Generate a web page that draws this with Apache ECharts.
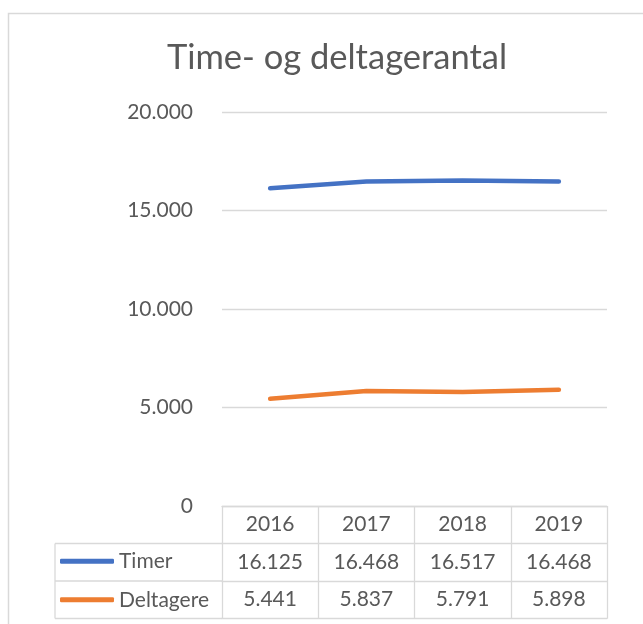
<!DOCTYPE html>
<html>
<head>
<meta charset="utf-8">
<script src="https://cdn.jsdelivr.net/npm/echarts@6/dist/echarts.min.js"></script>
<style>
  html, body { margin: 0; padding: 0; background: #fff; }
  #chart { width: 643px; height: 624px; }
</style>
</head>
<body>
<div id="chart"></div>
<script>
// data
var years = ['2016', '2017', '2018', '2019'];
var timer = [16125, 16468, 16517, 16468];
var deltagere = [5441, 5837, 5791, 5898];
var yTicks = [0, 5000, 10000, 15000, 20000];

// layout
var gridLeft = 222, gridRight = 607, gridTop = 112, gridBottom = 506;
var rowH = 37.5;
var tableLeft = 55;
var grey = '#d9d9d9';
var txt = '#595959';
var font = 'Lato';

function fmt(v) {
  return String(v).replace(/\B(?=(\d{3})+(?!\d))/g, '.');
}

var chart = echarts.init(document.getElementById('chart'));

function rowAxis(offset, values) {
  return {
    type: 'category',
    data: years,
    position: 'bottom',
    offset: offset,
    boundaryGap: true,
    axisLine: { show: true, lineStyle: { color: grey, width: 1.3 } },
    axisTick: { show: false },
    axisLabel: {
      show: !!values,
      margin: 8,
      color: txt,
      fontFamily: font,
      fontSize: 21,
      formatter: function (v, i) { return values ? fmt(values[i]) : ''; }
    }
  };
}

var legendText = { color: txt, fontFamily: font, fontSize: 21, lineHeight: 22 };

var option = {
  backgroundColor: '#fff',
  animation: false,
  title: {
    text: 'Time- og deltagerantal',
    left: 332,
    textAlign: 'center',
    top: 35,
    textStyle: { color: txt, fontFamily: font, fontSize: 34.5, fontWeight: 'normal' }
  },
  legend: [
    {
      data: ['Timer'],
      left: 55, top: gridBottom + rowH * 1.5 - 17,
      icon: 'roundRect', itemWidth: 54, itemHeight: 5,
      textStyle: legendText
    },
    {
      data: ['Deltagere'],
      left: 55, top: gridBottom + rowH * 2.5 - 16,
      icon: 'roundRect', itemWidth: 54, itemHeight: 5,
      textStyle: legendText
    }
  ],
  grid: {
    left: gridLeft, right: 643 - gridRight, top: gridTop, bottom: 624 - gridBottom,
    containLabel: false
  },
  xAxis: [
    {
      type: 'category',
      data: years,
      boundaryGap: true,
      axisLine: { show: true, lineStyle: { color: grey, width: 1.3 } },
      axisTick: { show: true, inside: false, length: rowH * 3, lineStyle: { color: grey, width: 1.3 } },
      axisLabel: { margin: 8, color: txt, fontFamily: font, fontSize: 21 }
    },
    rowAxis(rowH, timer),
    rowAxis(rowH * 2, deltagere),
    rowAxis(rowH * 3, null)
  ],
  yAxis: {
    type: 'value',
    min: yTicks[0],
    max: yTicks[yTicks.length - 1],
    interval: 5000,
    axisLine: { show: false },
    axisTick: { show: false },
    axisLabel: {
      margin: 29, color: txt, fontFamily: font, fontSize: 21,
      formatter: function (v) { return fmt(v); }
    },
    splitLine: { lineStyle: { color: grey, width: 1.3 } }
  },
  series: [
    {
      name: 'Timer', type: 'line', data: timer,
      symbol: 'none',
      lineStyle: { color: '#4472C4', width: 4.5, cap: 'round' },
      itemStyle: { color: '#4472C4' }
    },
    {
      name: 'Deltagere', type: 'line', data: deltagere,
      symbol: 'none',
      lineStyle: { color: '#ED7D31', width: 4.5, cap: 'round' },
      itemStyle: { color: '#ED7D31' }
    }
  ],
  graphic: [
    // outer chart border
    { type: 'rect', shape: { x: 8.5, y: 13.5, width: 700, height: 700 },
      style: { fill: null, stroke: grey, lineWidth: 1.5 }, silent: true },
    // legend column of the data table
    { type: 'line', shape: { x1: tableLeft, y1: gridBottom + rowH, x2: gridLeft, y2: gridBottom + rowH },
      style: { stroke: grey, lineWidth: 1.3 } },
    { type: 'line', shape: { x1: tableLeft, y1: gridBottom + rowH * 2, x2: gridLeft, y2: gridBottom + rowH * 2 },
      style: { stroke: grey, lineWidth: 1.3 } },
    { type: 'line', shape: { x1: tableLeft, y1: gridBottom + rowH * 3, x2: gridLeft, y2: gridBottom + rowH * 3 },
      style: { stroke: grey, lineWidth: 1.3 } },
    { type: 'line', shape: { x1: tableLeft, y1: gridBottom + rowH, x2: tableLeft, y2: gridBottom + rowH * 3 },
      style: { stroke: grey, lineWidth: 1.3 } }
  ]
};

chart.setOption(option);
</script>
</body>
</html>
